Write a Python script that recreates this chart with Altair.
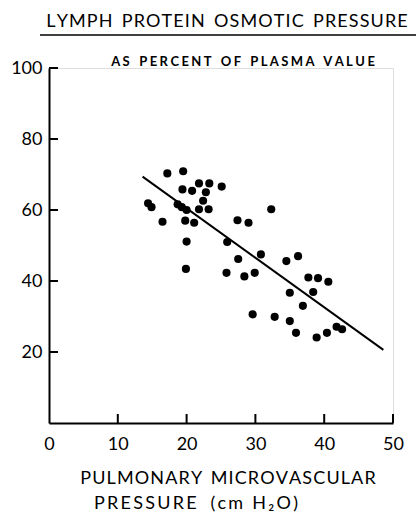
import altair as alt
import pandas as pd

# Pulmonary microvascular pressure (cm H2O)
px = [14.4, 14.9, 16.5, 17.2, 19.5, 19.4, 18.7, 19.3, 20.0, 19.8, 20.0, 19.9,
      20.8, 21.8, 23.3, 22.8, 22.4, 21.8, 23.2, 21.1, 25.1, 25.9, 25.8, 27.4,
      29.0, 32.3, 27.5, 28.4, 29.9, 30.8, 29.6, 32.8, 35.0, 34.5, 36.2, 36.9,
      35.0, 35.9, 37.7, 38.4, 39.1, 40.6, 38.9, 40.4, 41.8, 42.6]
# Lymph protein osmotic pressure (% of plasma value)
py = [61.9, 60.8, 56.7, 70.3, 70.9, 65.8, 61.6, 60.8, 60.0, 57.0, 51.1, 43.4,
      65.4, 67.5, 67.5, 65.0, 62.6, 60.2, 60.2, 56.4, 66.6, 51.0, 42.3, 57.1,
      56.4, 60.2, 46.2, 41.3, 42.3, 47.5, 30.6, 29.9, 36.7, 45.6, 47.0, 33.0,
      28.7, 25.4, 41.0, 36.9, 40.8, 39.8, 24.1, 25.4, 27.1, 26.4]

fit_x = [13.6, 48.6]
fit_y = [69.4, 20.6]

x_ticks = [10, 20, 30, 40, 50]
y_ticks = [20, 40, 60, 80, 100]

FONT = "Lato"
NB = "\u00a0"
HAIR = "\u200a"
THIN = "\u2009"


def spaced(text, sep, gap=2):
    words = text.split(" ")
    return (NB * gap).join(sep.join(w) for w in words)


pts = pd.DataFrame({"x": px, "y": py})
fit = pd.DataFrame({"x": fit_x, "y": fit_y})

xscale = alt.Scale(domain=[0, 50], nice=False, zero=False)
yscale = alt.Scale(domain=[0, 100], nice=False, zero=False)

xaxis = alt.Axis(values=[0, 10, 20, 30, 40, 50], ticks=False, grid=False,
                 domainColor="black", domainWidth=2, labelFontSize=18,
                 labelFont=FONT, labelColor="black", labelPadding=12,
                 title=None, labelFlush=False)
yaxis = alt.Axis(values=y_ticks, ticks=False, grid=False,
                 domainColor="black", domainWidth=2, labelFontSize=18,
                 labelFont=FONT, labelColor="black", labelPadding=7,
                 title=None)

points = alt.Chart(pts).mark_circle(size=66, color="black", opacity=1).encode(
    x=alt.X("x:Q", scale=xscale, axis=xaxis),
    y=alt.Y("y:Q", scale=yscale, axis=yaxis),
)

line = alt.Chart(fit).mark_line(color="black", strokeWidth=2).encode(
    x=alt.X("x:Q", scale=xscale), y=alt.Y("y:Q", scale=yscale)
)

xt = alt.Chart(pd.DataFrame({"v": x_ticks})).mark_rule(color="black", strokeWidth=2).encode(
    x=alt.X("v:Q", scale=xscale), y=alt.value(355), y2=alt.value(346)
)
yt = alt.Chart(pd.DataFrame({"v": y_ticks})).mark_rule(color="black", strokeWidth=2).encode(
    y=alt.Y("v:Q", scale=yscale), x=alt.value(0), x2=alt.value(9)
)


def label(text, x, y, size, weight="normal"):
    return alt.Chart(pd.DataFrame({"t": [text]})).mark_text(
        font=FONT, fontSize=size, fontWeight=weight, color="black",
        align="center", baseline="middle"
    ).encode(text="t:N", x=alt.value(x), y=alt.value(y))


title = label(spaced("LYMPH PROTEIN OSMOTIC PRESSURE", HAIR), 178, -46, 18)
underline = alt.Chart(pd.DataFrame({"a": [0]})).mark_rule(color="black", strokeWidth=1.5).encode(
    x=alt.value(-9), x2=alt.value(367), y=alt.value(-33)
)
subtitle = label(spaced("AS PERCENT OF PLASMA VALUE", THIN + HAIR, 3), 194, -6, 13, "bold")
xt1 = label(spaced("PULMONARY MICROVASCULAR", HAIR), 179, 411, 18)
xt2 = label(spaced("PRESSURE", THIN) + NB * 3 + THIN.join("(cm") + NB * 2 + THIN.join("H\u2082O)"),
            147, 436, 18)

chart = alt.layer(points, line, xt, yt, title, underline, subtitle, xt1, xt2).properties(
    width=344, height=355,
    padding={"left": 49, "top": 68, "right": 24, "bottom": 96},
    autosize=alt.AutoSizeParams(type="none"),
).configure_view(stroke=None).configure(background="white")

chart.save("out.html", embed_options={"renderer": "svg", "actions": False})
